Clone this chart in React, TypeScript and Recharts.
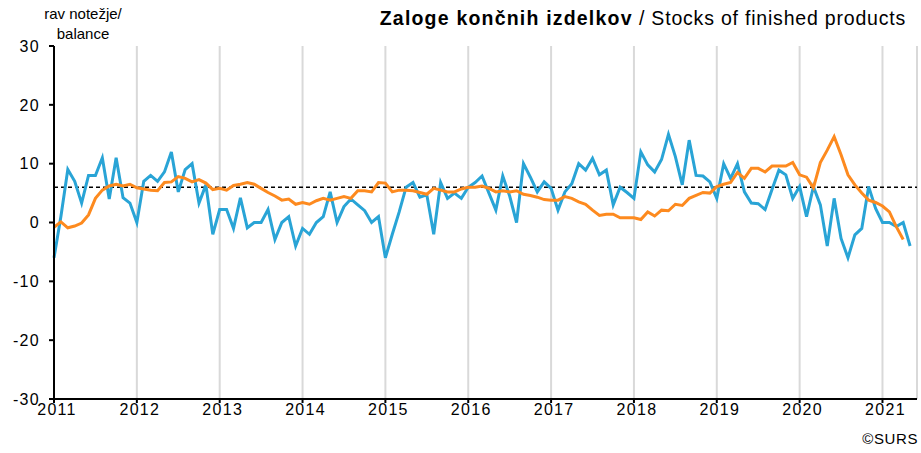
import React from 'react';
import { LineChart, Line, XAxis, YAxis, CartesianGrid, ReferenceLine } from 'recharts';

// monthly balance, Jan 2011 .. May 2021
const balance = [
  -6, 1, 9, 7, 3.3, 8, 8, 11, 4, 11, 4.2, 3.3,
  0, 7, 8, 7, 8.6, 12, 5.2, 9, 10, 3.3, 6.4, -2,
  2.2, 2.2, -1, 4.2, -0.9, 0, 0, 2.2, -2.9, 0, 1, -4,
  -1, -2, 0, 1, 5.2, 0, 2.7, 4, 3, 2, 0, 1,
  -6, -2, 1.8, 6, 6.8, 4.3, 4.7, -2, 6.8, 4.1, 5, 4.1,
  6, 6.8, 7.9, 5, 2.1, 7.9, 4.5, 0, 10, 7.7, 5.2, 6.9,
  5.8, 2.1, 5.2, 6.6, 10, 8.9, 10.9, 8.1, 8.9, 3, 6, 5.1,
  4.1, 12, 9.8, 8.6, 10.7, 15, 11.2, 6.4, 14, 8, 7.9, 6.9,
  4.1, 10, 7.5, 10, 5.2, 3.3, 3.2, 2.2, 5.6, 8.9, 8.1, 4.1,
  6.1, 1, 6.1, 3, -4, 4.1, -2.7, -6, -2.1, -1, 6.1, 2.4,
  0, 0, -0.7, 0, -4,
];

// smoothed series (ends one month earlier)
const smoothed = [
  -0.8, 0.1, -0.9, -0.6, -0.1, 1.3, 4.1, 5.5, 6.2, 6.5, 6.2, 6.5,
  5.9, 5.7, 5.5, 5.4, 6.8, 6.9, 7.8, 7.5, 6.9, 7.3, 6.7, 5.6,
  5.8, 5.5, 6.3, 6.5, 6.8, 6.5, 5.8, 5.1, 4.5, 3.8, 4.0, 3.1,
  3.4, 3.1, 3.7, 4.1, 3.8, 4.1, 4.4, 4.1, 5.4, 5.4, 5.2, 6.8,
  6.7, 5.2, 5.5, 5.5, 5.4, 5.1, 4.8, 5.8, 5.5, 5.2, 5.2, 5.7,
  6.0, 6.0, 6.2, 5.8, 5.2, 5.4, 5.2, 5.4, 4.8, 4.6, 4.3, 3.9,
  3.8, 3.8, 4.4, 4.1, 3.5, 3.1, 2.1, 1.2, 1.4, 1.4, 0.8, 0.8,
  0.8, 0.5, 1.8, 1.1, 2.1, 2.0, 3.1, 2.9, 4.1, 4.6, 5.1, 5.0,
  6.1, 6.5, 6.8, 8.5, 7.5, 9.2, 9.2, 8.6, 9.6, 9.6, 9.6, 10.2,
  8.1, 7.7, 5.9, 10.2, 12.3, 14.6, 11.5, 8.1, 6.4, 5.0, 3.8, 3.4,
  2.8, 1.8, -0.7, -2.9, null,
];

const longTermAvg = 6;
const yearLabels = ['2011', '2012', '2013', '2014', '2015', '2016', '2017', '2018', '2019', '2020', '2021'];
const yTicks = [-30, -20, -10, 0, 10, 20, 30];

const data = balance.map((v, i) => ({ m: i, balance: v, smoothed: smoothed[i] }));
const xTicks = yearLabels.map((_, i) => i * 12);

const font = "'Liberation Sans', Arial, sans-serif";
const tickStyle = { fill: '#000', fontSize: 16, fontFamily: font, letterSpacing: 1.3 };

export default function App() {
  return (
    <div style={{ position: 'absolute', left: 0, top: 0, width: 921, height: 453, fontFamily: font, background: '#fff' }}>
      <div style={{ position: 'absolute', left: 0, top: 4, width: 166, textAlign: 'center', fontSize: 15, lineHeight: '20px', color: '#000' }}>
        rav notežje/
        <br />
        balance
      </div>
      <div style={{ position: 'absolute', right: 15, top: 7, fontSize: 19.5, letterSpacing: 0.8, color: '#000', whiteSpace: 'nowrap' }}>
        <b style={{ letterSpacing: 1.2 }}>Zaloge končnih izdelkov</b> / Stocks of finished products
      </div>
      <div style={{ position: 'absolute', right: 3, top: 430, fontSize: 15, letterSpacing: 0.6, color: '#000' }}>©SURS</div>
      <LineChart width={921} height={453} data={data} margin={{ top: 46, right: 4, bottom: 24, left: 10 }}>
        <CartesianGrid horizontal={false} stroke="#d9d9d9" strokeWidth={2} />
        <XAxis
          dataKey="m"
          type="number"
          domain={[0, 125]}
          ticks={xTicks}
          tickFormatter={(v: number) => yearLabels[v / 12]}
          tick={{ ...tickStyle, dx: 3 }}
          tickSize={4}
          tickMargin={1}
          height={30}
          stroke="#000"
          strokeWidth={2}
        />
        <YAxis
          domain={[-30, 30]}
          ticks={yTicks}
          tick={tickStyle}
          tickSize={5}
          tickMargin={9}
          width={44}
          stroke="#000"
          strokeWidth={2}
          allowDataOverflow
        />
        <ReferenceLine y={longTermAvg} stroke="#000" strokeWidth={1.5} strokeDasharray="4 3" />
        <Line dataKey="balance" stroke="#29a4d6" strokeWidth={3} dot={false} isAnimationActive={false} />
        <Line dataKey="smoothed" stroke="#fd8a1f" strokeWidth={3} dot={false} isAnimationActive={false} connectNulls={false} />
      </LineChart>
    </div>
  );
}
